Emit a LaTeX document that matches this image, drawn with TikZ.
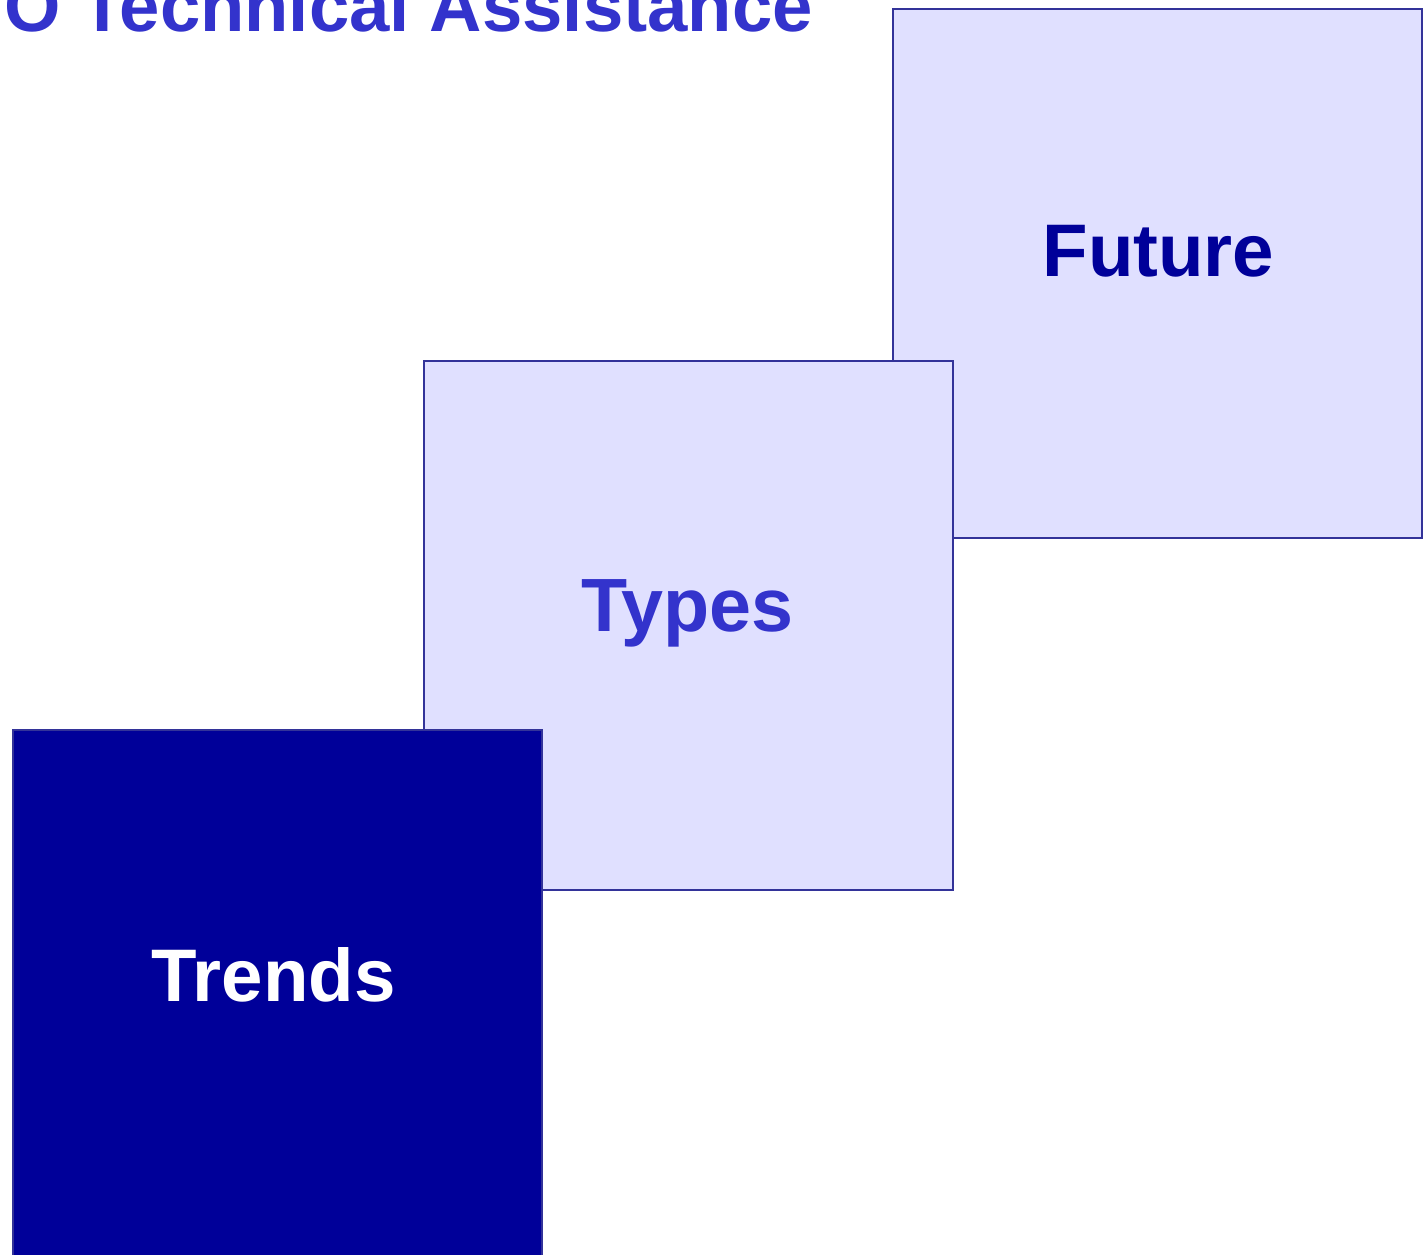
\documentclass[tikz,border=0pt]{standalone}
\usepackage{fontspec}
\setmainfont{Liberation Sans}
\definecolor{boxfill}{HTML}{E0E0FF}
\definecolor{boxline}{HTML}{333399}
\definecolor{darkfill}{HTML}{000099}
\definecolor{titleblue}{HTML}{3333CC}
\begin{document}
\begin{tikzpicture}[x=1pt,y=1pt,
  card/.style={draw=boxline,line width=2pt,fill=boxfill,rectangle,minimum width=529pt,minimum height=529pt,inner sep=0pt,anchor=north west},
  darkcard/.style={card,fill=darkfill},
  cardtext/.style={font=\fontsize{74.5}{80}\selectfont\bfseries,inner sep=0pt,anchor=base},
  titletext/.style={font=\fontsize{72.5}{80}\selectfont\bfseries,text=titleblue,inner sep=0pt,anchor=base west}]
\useasboundingbox (0,0) rectangle (1428,-1255);
\clip (0,0) rectangle (1428,-1255);
\node[card] (future) at (892,-8) {};
\node[cardtext,text=darkfill] (futuretxt) at ([xshift=1pt,yshift=-268pt]future.north) {Future};
\node[card] (types) at (423,-360) {};
\node[cardtext,text=titleblue,font=\fontsize{75.5}{80}\selectfont\bfseries] (typestxt) at ([xshift=-1pt,yshift=-271.5pt]types.north) {Types};
\node[darkcard] (trends) at (12,-729) {};
\node[cardtext,text=white] (trendstxt) at ([xshift=-4pt,yshift=-272.5pt]trends.north) {Trends};
\node[titletext] (title) at (4,-32) {O Technical Assistance};
\end{tikzpicture}
\end{document}
